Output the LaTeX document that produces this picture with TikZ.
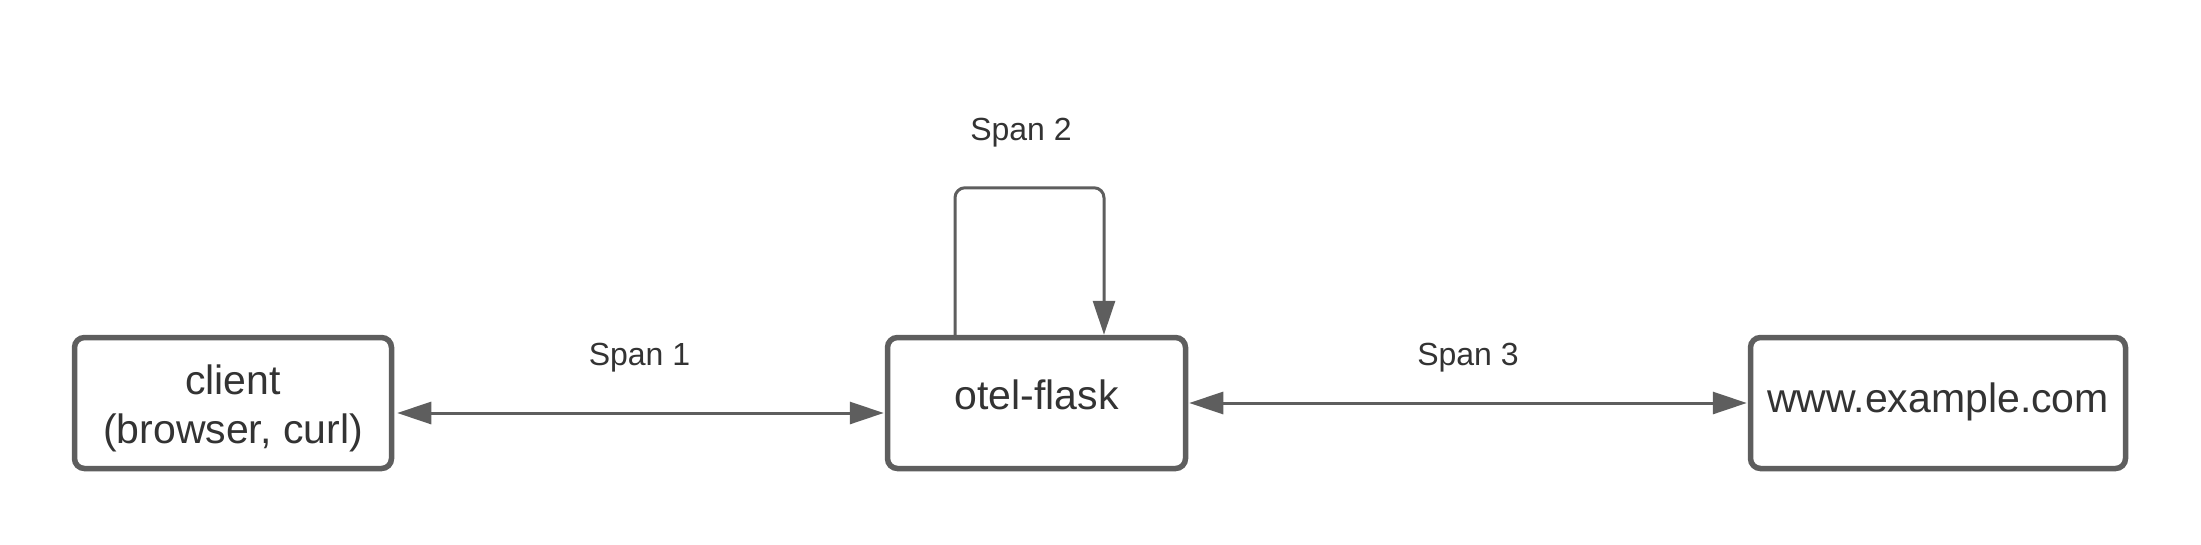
\documentclass[tikz,border=0pt]{standalone}
\usepackage{fontspec}
\setmainfont{Liberation Sans}
\usetikzlibrary{arrows.meta}
\definecolor{edgegray}{HTML}{5E5E5E}
\definecolor{txtgray}{HTML}{333333}
\begin{document}
\begin{tikzpicture}[x=1pt,y=-1pt,
  box/.style={draw=edgegray, line width=5.5pt, rounded corners=10pt, fill=white,
    inner sep=0pt, text=txtgray, font=\fontsize{41}{49}\selectfont, minimum height=131pt},
  conn/.style={draw=edgegray, line width=3pt},
  lbl/.style={text=txtgray, font=\fontsize{32}{38}\selectfont, inner sep=0pt}]
\useasboundingbox (0,0) rectangle (2201,544);
\node[box, minimum width=317pt, align=center] (client) at (233,403) {\rule{0pt}{40pt}client\\(browser, curl)};
\node[box, minimum width=298pt, text height=30pt, text depth=18pt] (otel) at (1036.5,403) {otel-flask};
\node[box, minimum width=375pt, text height=30pt, text depth=12pt] (www) at (1938,403) {www.example.com};
\draw[conn, {Triangle[length=34pt,width=22pt]}-{Triangle[length=34pt,width=22pt]}, shorten <=3pt, shorten >=1pt]
  ([yshift=-10pt]client.east) -- node[lbl, midway, yshift=55pt] (s1) {Span 1} ([yshift=-10pt]otel.west);
\draw[conn, {Triangle[length=34pt,width=22pt]}-{Triangle[length=34pt,width=22pt]}, shorten <=1pt, shorten >=1pt]
  (otel.east) -- node[lbl, midway, yshift=45pt] (s3) {Span 3} (www.west);
\draw[conn, -{Triangle[length=34pt,width=22pt]}, rounded corners=10pt]
  ([xshift=-81.5pt]otel.north) -- ++(0,-147) -| ([xshift=67.5pt]otel.north);
\node[lbl] (s2) at (1021,133) {Span 2};
\end{tikzpicture}
\end{document}
